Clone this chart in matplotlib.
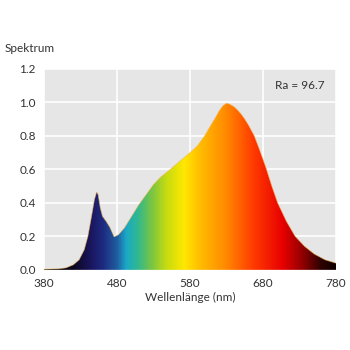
import numpy as np
import matplotlib
matplotlib.use("Agg")
import matplotlib.pyplot as plt
from matplotlib.colors import LinearSegmentedColormap

plt.rcParams["font.family"] = ["Lato", "DejaVu Sans"]

# spectrum
wavelength = [380, 400, 410, 420, 428, 435, 440, 445, 449, 452, 454, 457, 460, 465, 470, 476,
              482, 490, 500, 510, 520, 530, 540, 553, 565, 580, 590, 600, 608,
              615, 620, 625, 630, 634, 640, 645, 650, 655, 660, 668, 675, 684, 692, 700,
              712, 724, 737, 750, 765, 780]
intensity = [0.004, 0.006, 0.012, 0.03, 0.06, 0.12, 0.2, 0.32, 0.42, 0.465, 0.45, 0.37, 0.32,
             0.29, 0.255, 0.197, 0.21, 0.25, 0.32, 0.39, 0.45, 0.51, 0.555, 0.60, 0.645,
             0.70, 0.74, 0.80, 0.86, 0.91, 0.95, 0.98, 0.995, 0.99, 0.975, 0.955,
             0.93, 0.90, 0.865, 0.80, 0.72, 0.61, 0.50, 0.40, 0.29, 0.20, 0.14, 0.095,
             0.06, 0.04]
x_ticks = [380, 480, 580, 680, 780]
y_ticks = [0.0, 0.2, 0.4, 0.6, 0.8, 1.0, 1.2]

spec = LinearSegmentedColormap.from_list("spec", [
    (0.00, "#000000"), (0.10, "#0b0820"), (0.16, "#1a1660"), (0.20, "#1e2a80"),
    (0.25, "#1f5fa0"), (0.28, "#1aa8c8"), (0.32, "#30b890"), (0.37, "#7cc640"),
    (0.42, "#c8dc10"), (0.48, "#ffe800"), (0.53, "#ffc000"), (0.62, "#ff8c00"),
    (0.72, "#ff3a00"), (0.82, "#e80000"), (0.89, "#900000"), (0.95, "#300000"),
    (1.00, "#100000")])

fig = plt.figure(figsize=(3.5, 3.5), dpi=100)
ax = fig.add_axes([0.126, 0.229, 0.834, 0.574])
ax.set_facecolor("#e6e6e6")

ax.set_xlim(380, 780)
ax.set_ylim(0, 1.2)
ax.set_xticks(x_ticks)
ax.set_yticks(y_ticks)
ax.set_yticklabels([f"{v:.1f}" for v in y_ticks])
ax.grid(True, color="white", linewidth=1.2)
ax.set_axisbelow(True)
ax.tick_params(length=0, labelsize=8.5, colors="#333333", pad=6)
for s in ax.spines.values():
    s.set_visible(False)

fill = ax.fill_between(wavelength, 0, intensity, color="none", zorder=2)
grad = np.linspace(0, 1, 400).reshape(1, -1)
img = ax.imshow(grad, extent=[380, 780, 0, 1.2], aspect="auto", cmap=spec,
                origin="lower", zorder=3)
img.set_clip_path(fill.get_paths()[0], transform=ax.transData)
ax.plot(wavelength, intensity, color="#f5b04a", linewidth=0.6, alpha=0.6, zorder=4)

ax.text(0.96, 0.92, "Ra = 96.7", transform=ax.transAxes, ha="right", va="center",
        fontsize=8.5, color="#333333")
fig.text(0.012, 0.862, "Spektrum", ha="left", va="center", fontsize=8.5, color="#333333")
ax.set_xlabel("Wellenlänge (nm)", fontsize=8.5, color="#333333", labelpad=2)

fig.savefig("out.png", dpi=100, facecolor="white")
